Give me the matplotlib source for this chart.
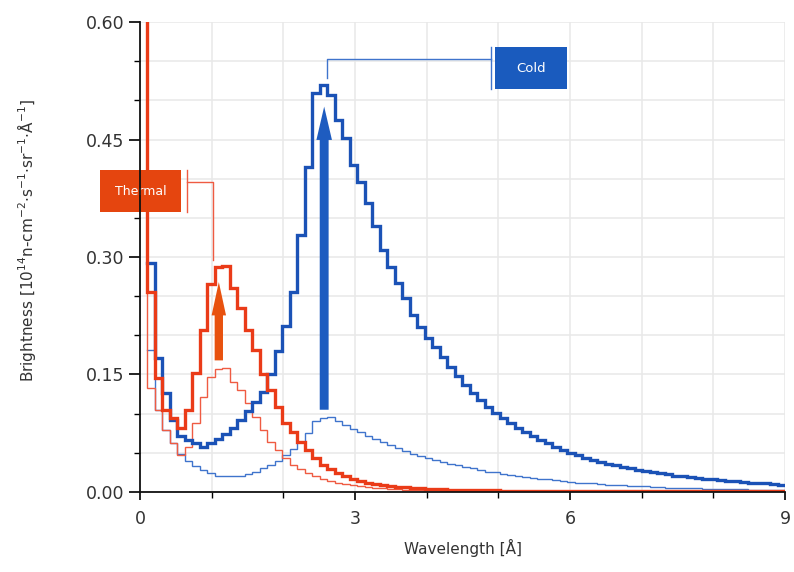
import numpy as np
import matplotlib
matplotlib.use("Agg")
import matplotlib.pyplot as plt
from matplotlib.patches import Rectangle

plt.rcParams['font.family'] = ['DejaVu Sans']

# histogram bins (wavelength, Angstrom)
edges = np.linspace(0.1, 9.0, 86)

# off-scale value at the short-wavelength end of the thermal spectra
thermal_spike = 2.0

thermal_new = [0.255, 0.145, 0.105, 0.095, 0.082, 0.105, 0.152, 0.207, 0.265, 0.287,
               0.288, 0.260, 0.235, 0.207, 0.181, 0.150, 0.130, 0.109, 0.088, 0.076,
               0.064, 0.053, 0.043, 0.035, 0.029, 0.024, 0.020, 0.017, 0.014, 0.012,
               0.010, 0.0088, 0.0077, 0.0068, 0.006, 0.0053, 0.0047, 0.0042, 0.0038, 0.0034,
               0.0031, 0.0028, 0.0026, 0.0024, 0.0022, 0.002, 0.0019, 0.0018, 0.0017, 0.0016,
               0.0015, 0.0015, 0.0014, 0.0014, 0.0013, 0.0013, 0.0012, 0.0012, 0.0012, 0.0011,
               0.0011, 0.0011, 0.001, 0.001, 0.001, 0.001, 0.001, 0.001, 0.0009, 0.0009,
               0.0009, 0.0009, 0.0009, 0.0009, 0.0008, 0.0008, 0.0008, 0.0008, 0.0008, 0.0008,
               0.0008, 0.0008, 0.0008, 0.0008, 0.0008]

thermal_old = [0.133, 0.105, 0.079, 0.063, 0.047, 0.058, 0.088, 0.121, 0.147, 0.157,
               0.158, 0.141, 0.130, 0.113, 0.096, 0.079, 0.064, 0.054, 0.043, 0.035,
               0.029, 0.024, 0.020, 0.017, 0.014, 0.012, 0.010, 0.0085, 0.007, 0.006,
               0.005, 0.0045, 0.004, 0.0035, 0.003, 0.0027, 0.0024, 0.0022, 0.002, 0.0018,
               0.0016, 0.0015, 0.0014, 0.0013, 0.0013, 0.0012, 0.0012, 0.0011, 0.0011, 0.0011,
               0.001, 0.001, 0.001, 0.001, 0.001, 0.001, 0.0009, 0.0009, 0.0009, 0.0009,
               0.0009, 0.0009, 0.0009, 0.0008, 0.0008, 0.0008, 0.0008, 0.0008, 0.0008, 0.0008,
               0.0008, 0.0008, 0.0008, 0.0008, 0.0008, 0.0008, 0.0008, 0.0008, 0.0008, 0.0008,
               0.0008, 0.0008, 0.0008, 0.0008, 0.0008]

cold_new = [0.292, 0.171, 0.126, 0.092, 0.071, 0.066, 0.062, 0.058, 0.062, 0.067,
            0.074, 0.082, 0.092, 0.103, 0.115, 0.128, 0.150, 0.180, 0.212, 0.255,
            0.328, 0.415, 0.509, 0.520, 0.507, 0.475, 0.452, 0.417, 0.396, 0.369,
            0.339, 0.309, 0.287, 0.267, 0.248, 0.226, 0.210, 0.197, 0.185, 0.172,
            0.160, 0.148, 0.137, 0.126, 0.117, 0.109, 0.101, 0.094, 0.088, 0.082,
            0.077, 0.071, 0.066, 0.062, 0.058, 0.054, 0.050, 0.047, 0.044, 0.041,
            0.038, 0.036, 0.034, 0.032, 0.030, 0.028, 0.027, 0.025, 0.024, 0.023,
            0.021, 0.020, 0.019, 0.018, 0.017, 0.016, 0.015, 0.014, 0.0135, 0.013,
            0.012, 0.0115, 0.011, 0.010, 0.0095]

cold_old = [0.181, 0.105, 0.079, 0.062, 0.048, 0.040, 0.033, 0.028, 0.024, 0.021,
            0.020, 0.020, 0.021, 0.023, 0.026, 0.030, 0.034, 0.040, 0.047, 0.055,
            0.064, 0.075, 0.090, 0.095, 0.096, 0.091, 0.086, 0.081, 0.077, 0.072,
            0.068, 0.064, 0.060, 0.056, 0.052, 0.049, 0.046, 0.043, 0.041, 0.038,
            0.036, 0.034, 0.032, 0.030, 0.028, 0.026, 0.025, 0.023, 0.022, 0.020,
            0.019, 0.018, 0.017, 0.016, 0.015, 0.014, 0.013, 0.012, 0.0115, 0.011,
            0.010, 0.0095, 0.009, 0.0085, 0.008, 0.0075, 0.007, 0.0065, 0.006, 0.0057,
            0.0054, 0.0051, 0.0048, 0.0045, 0.0042, 0.004, 0.0038, 0.0036, 0.0034, 0.0032,
            0.003, 0.0029, 0.0028, 0.0027, 0.0026]

RED = '#EA3B18'
RED_THIN = '#EF5B42'
RED_BOX = '#E5450F'
BLUE = '#1B52B6'
BLUE_THIN = '#3F74CC'
BLUE_BOX = '#1A5BBE'


def stepline(ax, vals, color, lw, spike=None, z=2):
    x = edges
    y = np.r_[vals, vals[-1]]
    if spike is not None:
        x = np.r_[edges[0], x]
        y = np.r_[spike, y]
    ax.step(x, y, where='post', color=color, lw=lw, zorder=z,
            solid_joinstyle='miter')


fig = plt.figure(figsize=(7.94, 5.72), dpi=100)
ax = fig.add_axes([0.1763, 0.1399, 0.8124, 0.8216])

stepline(ax, cold_old, BLUE_THIN, 1.0, z=3)
stepline(ax, thermal_old, RED_THIN, 1.0, spike=thermal_spike, z=3)
stepline(ax, cold_new, BLUE, 2.4, z=4)
stepline(ax, thermal_new, RED, 2.4, spike=thermal_spike, z=5)

# gain arrows
ax.annotate('', xy=(1.10, 0.268), xytext=(1.10, 0.168),
            arrowprops=dict(arrowstyle='simple,head_length=1.2,head_width=0.52,tail_width=0.3',
                            mutation_scale=20, color='#E8520F', lw=0,
                            shrinkA=0, shrinkB=0), zorder=6)
ax.annotate('', xy=(2.57, 0.492), xytext=(2.57, 0.105),
            arrowprops=dict(arrowstyle='simple,head_length=1.2,head_width=0.56,tail_width=0.32',
                            mutation_scale=20, color='#1E5CC0', lw=0,
                            shrinkA=0, shrinkB=0), zorder=6)

# callouts
ax.add_patch(Rectangle((-0.56, 0.357), 1.13, 0.054, facecolor=RED_BOX,
                       edgecolor='none', clip_on=False, zorder=7))
ax.text(0.005, 0.384, 'Thermal', color='white', fontsize=9, ha='center',
        va='center', zorder=8, clip_on=False)
ax.plot([0.656, 0.656], [0.357, 0.411], color=RED_THIN, lw=1.0, clip_on=False, zorder=7)
ax.plot([0.656, 1.02, 1.02], [0.396, 0.396, 0.296], color=RED_THIN, lw=1.0, zorder=7)

ax.add_patch(Rectangle((4.95, 0.514), 1.01, 0.054, facecolor=BLUE_BOX,
                       edgecolor='none', clip_on=False, zorder=7))
ax.text(5.455, 0.541, 'Cold', color='white', fontsize=9.5, ha='center',
        va='center', zorder=8)
ax.plot([4.90, 4.90], [0.514, 0.568], color=BLUE_THIN, lw=1.0, zorder=7)
ax.plot([4.90, 2.61, 2.61], [0.553, 0.553, 0.529], color=BLUE_THIN, lw=1.0, zorder=7)

ax.set_xlim(0, 9)
ax.set_ylim(0, 0.6)
ax.set_xticks([0, 3, 6, 9])
ax.set_xticks(np.arange(0, 10, 1), minor=True)
ax.set_yticks([0, 0.15, 0.30, 0.45, 0.60])
ax.set_yticklabels(['0.00', '0.15', '0.30', '0.45', '0.60'])
ax.set_yticks(np.arange(0, 0.61, 0.05), minor=True)

ax.grid(which='both', color='#E8E8E8', lw=1.1, zorder=0)
ax.set_axisbelow(True)
for s in ['top', 'right']:
    ax.spines[s].set_visible(False)
for s in ['left', 'bottom']:
    ax.spines[s].set_linewidth(1.3)
    ax.spines[s].set_color('#111111')
    ax.spines[s].set_zorder(10)

ax.tick_params(axis='y', which='major', length=8, width=1.2, pad=3,
               labelsize=12.5, labelcolor='#333333')
ax.tick_params(axis='y', which='minor', length=4, width=1.0)
ax.tick_params(axis='x', which='major', length=6, width=1.2, pad=7,
               labelsize=12.5, labelcolor='#333333')
ax.tick_params(axis='x', which='minor', length=4, width=1.0)

ax.set_xlabel('Wavelength [Å]', fontsize=11, color='#333333')
ax.xaxis.set_label_coords(0.5, -0.10)
ax.set_ylabel(r'Brightness [10$^{14}$n-cm$^{-2}$$\cdot$s$^{-1}$$\cdot$sr$^{-1}$$\cdot$Å$^{-1}$]',
              fontsize=11, color='#333333')
ax.yaxis.set_label_coords(-0.158, 0.536)

fig.savefig('out.png', dpi=100)
